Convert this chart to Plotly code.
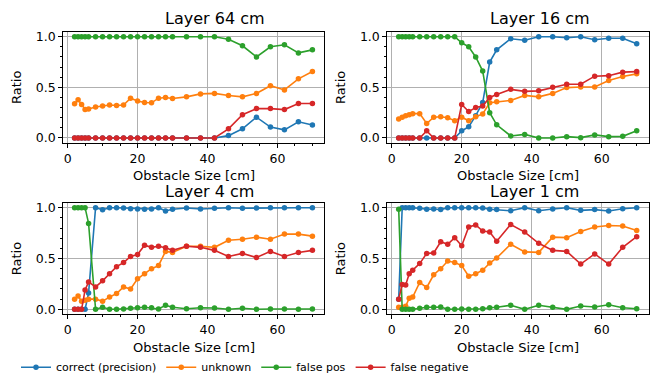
import plotly.graph_objects as go

# ---------------- data ----------------
sizes = [2, 3, 4, 5, 6, 8, 10, 12, 14, 16, 18, 20, 22, 24, 26, 28, 30,
         34, 38, 42, 46, 50, 54, 58, 62, 66, 70]

series_names = ["correct (precision)", "unknown", "false pos", "false negative"]
series_colors = ["#1f77b4", "#ff7f0e", "#2ca02c", "#d62728"]

# Layer 64 cm
l64_correct = [0]*20 + [0.023, 0.09, 0.205, 0.107, 0.08, 0.16, 0.127]
l64_unknown = [0.338, 0.377, 0.331, 0.282, 0.286, 0.305, 0.315, 0.325, 0.32, 0.325,
               0.393, 0.364, 0.35, 0.347, 0.393, 0.40, 0.39, 0.406, 0.435, 0.44,
               0.42, 0.406, 0.44, 0.516, 0.474, 0.584, 0.656]
l64_falsepos = [1.0]*20 + [0.975, 0.91, 0.80, 0.90, 0.92, 0.84, 0.87]
l64_falseneg = [0]*20 + [0.09, 0.23, 0.29, 0.29, 0.28, 0.34, 0.34]

# Layer 16 cm
l16_correct = [0]*11 + [0.07, 0.11, 0.22, 0.35, 0.75, 0.87, 0.98, 0.965, 1.0, 1.0,
                        0.99, 1.0, 0.97, 0.985, 0.985, 0.93]
l16_unknown = [0.188, 0.205, 0.22, 0.23, 0.24, 0.24, 0.143, 0.205, 0.21, 0.20,
               0.17, 0.205, 0.17, 0.21, 0.237, 0.347, 0.357, 0.37, 0.42, 0.406,
               0.44, 0.497, 0.503, 0.503, 0.568, 0.607, 0.633]
l16_falsepos = [1.0]*11 + [0.94, 0.90, 0.80, 0.66, 0.25, 0.13, 0.02, 0.035, 0.0, 0.0,
                           0.013, 0.003, 0.03, 0.013, 0.016, 0.07]
l16_falseneg = [0, 0, 0, 0, 0, 0, 0.07, 0, 0, 0, 0,
                0.33, 0.26, 0.30, 0.315, 0.40, 0.43, 0.48, 0.46, 0.465, 0.50,
                0.53, 0.53, 0.61, 0.615, 0.65, 0.655]

# Layer 4 cm
l4_correct = [0, 0, 0, 0, 0.16, 1.0, 0.98, 1.0, 1.0, 0.997, 0.99, 0.987, 0.984,
              0.987, 1.0, 0.968, 0.984, 0.997, 0.987, 0.994, 1.0, 0.994, 0.997,
              1.0, 1.0, 1.0, 1.0]
l4_unknown = [0.10, 0.13, 0.08, 0.09, 0.10, 0.10, 0.08, 0.12, 0.155, 0.22, 0.20,
              0.30, 0.35, 0.40, 0.43, 0.57, 0.56, 0.62, 0.62, 0.61, 0.68, 0.69,
              0.71, 0.69, 0.74, 0.74, 0.72]
l4_falsepos = [1.0, 1.0, 1.0, 1.0, 0.845, 0.0, 0.02, 0.0, 0.0, 0.003, 0.01, 0.015,
               0.02, 0.015, 0.003, 0.04, 0.02, 0.006, 0.015, 0.013, 0.0, 0.01, 0.0,
               0.003, 0.003, 0.0, 0.003]
l4_falseneg = [0, 0, 0, 0.19, 0.27, 0.22, 0.28, 0.35, 0.42, 0.46, 0.52, 0.54, 0.63,
               0.61, 0.62, 0.605, 0.58, 0.62, 0.61, 0.58, 0.52, 0.55, 0.51, 0.57,
               0.52, 0.56, 0.58]

# Layer 1 cm
l1_correct = [0.10, 1.0, 1.0, 1.0, 1.0, 0.994, 0.984, 0.987, 0.981, 1.0, 1.0, 1.0,
              1.0, 1.0, 0.997, 0.984, 0.981, 0.97, 1.0, 0.97, 0.987, 1.0, 0.974,
              0.981, 0.968, 0.99, 1.0]
l1_unknown = [0.02, 0.02, 0.03, 0.11, 0.12, 0.265, 0.215, 0.34, 0.40, 0.475, 0.46,
              0.43, 0.325, 0.35, 0.385, 0.455, 0.505, 0.64, 0.565, 0.56, 0.71,
              0.705, 0.765, 0.81, 0.825, 0.82, 0.775]
l1_falsepos = [0.985, 0, 0, 0, 0, 0.01, 0.02, 0.02, 0.023, 0, 0, 0.003, 0, 0, 0.006,
               0.016, 0.02, 0.04, 0, 0.04, 0.02, 0, 0.032, 0.023, 0.045, 0.016, 0.006]
l1_falseneg = [0.10, 0.245, 0.24, 0.35, 0.385, 0.45, 0.55, 0.555, 0.665, 0.64, 0.705,
               0.625, 0.81, 0.83, 0.77, 0.76, 0.67, 0.835, 0.76, 0.65, 0.58, 0.57,
               0.445, 0.545, 0.445, 0.61, 0.715]

panel_titles = ["Layer 64 cm", "Layer 16 cm", "Layer 4 cm", "Layer 1 cm"]
panels = [
    [l64_correct, l64_unknown, l64_falsepos, l64_falseneg],
    [l16_correct, l16_unknown, l16_falsepos, l16_falseneg],
    [l4_correct, l4_unknown, l4_falsepos, l4_falseneg],
    [l1_correct, l1_unknown, l1_falsepos, l1_falseneg],
]
x_ticks = [0, 20, 40, 60]
y_ticks = [0.0, 0.5, 1.0]

# ---------------- layout geometry (pixels in the 659x383 window) ----------------
OFF = 8                      # default page body margin
W, H = 659 - OFF, 383 - OFF  # figure size so it fits inside the window
FONT = "DejaVu Sans"


def px_x(v):
    return (v - OFF) / W


def px_y(v):
    return 1 - (v - OFF) / H


# (left, right, top, bottom) of each axes frame in window pixels
frames = [
    (62.7, 324.3, 28.9, 141.8),
    (386.8, 648.6, 28.9, 141.8),
    (62.7, 324.3, 202.2, 315.5),
    (386.8, 648.6, 202.2, 315.5),
]

fig = go.Figure()
annotations = []

for i, (vals, title, fr) in enumerate(zip(panels, panel_titles, frames)):
    sfx = "" if i == 0 else str(i + 1)
    for name, color, v in zip(series_names, series_colors, vals):
        fig.add_trace(go.Scatter(
            x=sizes, y=v, mode="lines+markers", name=name,
            line=dict(color=color, width=1.6),
            marker=dict(color=color, size=5.5),
            xaxis="x" + sfx, yaxis="y" + sfx,
            showlegend=(i == 0), legendgroup=name,
        ))
    l, r, t, b = fr
    common = dict(
        showline=True, mirror=True, linecolor="black", linewidth=1,
        ticks="outside", ticklen=3.5, tickwidth=1, tickcolor="black",
        showgrid=True, gridcolor="#b0b0b0", gridwidth=0.8, zeroline=False,
        tickfont=dict(family=FONT, size=12.5, color="black"),
        minor=dict(ticks="outside", ticklen=2, tickwidth=0.6, tickcolor="black",
                   showgrid=False),
    )
    fig.layout["xaxis" + sfx] = dict(
        domain=[px_x(l), px_x(r)], range=[-1.4, 73.4], anchor="y" + sfx,
        tickvals=x_ticks, minor_dtick=5, minor_tick0=0, **common)
    fig.layout["yaxis" + sfx] = dict(
        domain=[px_y(b), px_y(t)], range=[-0.05, 1.05], anchor="x" + sfx,
        tickvals=y_ticks, tickformat=".1f", minor_dtick=0.1, minor_tick0=0,
        **common)
    # panel title
    title_y = 16 if i < 2 else 190.5
    annotations.append(dict(
        text=title, x=px_x(l + 0.385 * (r - l)), y=px_y(title_y),
        xref="paper", yref="paper", xanchor="left", yanchor="middle",
        showarrow=False, font=dict(family=FONT, size=16, color="black")))
    # x label
    xl_y = 174.5 if i < 2 else 349
    annotations.append(dict(
        text="Obstacle Size [cm]", x=px_x((l + r) / 2), y=px_y(xl_y),
        xref="paper", yref="paper", xanchor="center", yanchor="middle",
        showarrow=False, font=dict(family=FONT, size=13, color="black")))
    # y label
    annotations.append(dict(
        text="Ratio", x=px_x(l - 46), y=px_y((t + b) / 2), textangle=-90,
        xref="paper", yref="paper", xanchor="center", yanchor="middle",
        showarrow=False, font=dict(family=FONT, size=13, color="black")))

fig.update_layout(
    width=W, height=H,
    margin=dict(l=0, r=0, t=0, b=0),
    plot_bgcolor="white", paper_bgcolor="white",
    annotations=annotations,
    showlegend=True,
    legend=dict(orientation="h", x=px_x(16), y=px_y(369), xanchor="left",
                yanchor="middle", font=dict(family=FONT, size=11, color="black"),
                itemwidth=30, bgcolor="rgba(0,0,0,0)"),
)

fig.write_html("out.html")
